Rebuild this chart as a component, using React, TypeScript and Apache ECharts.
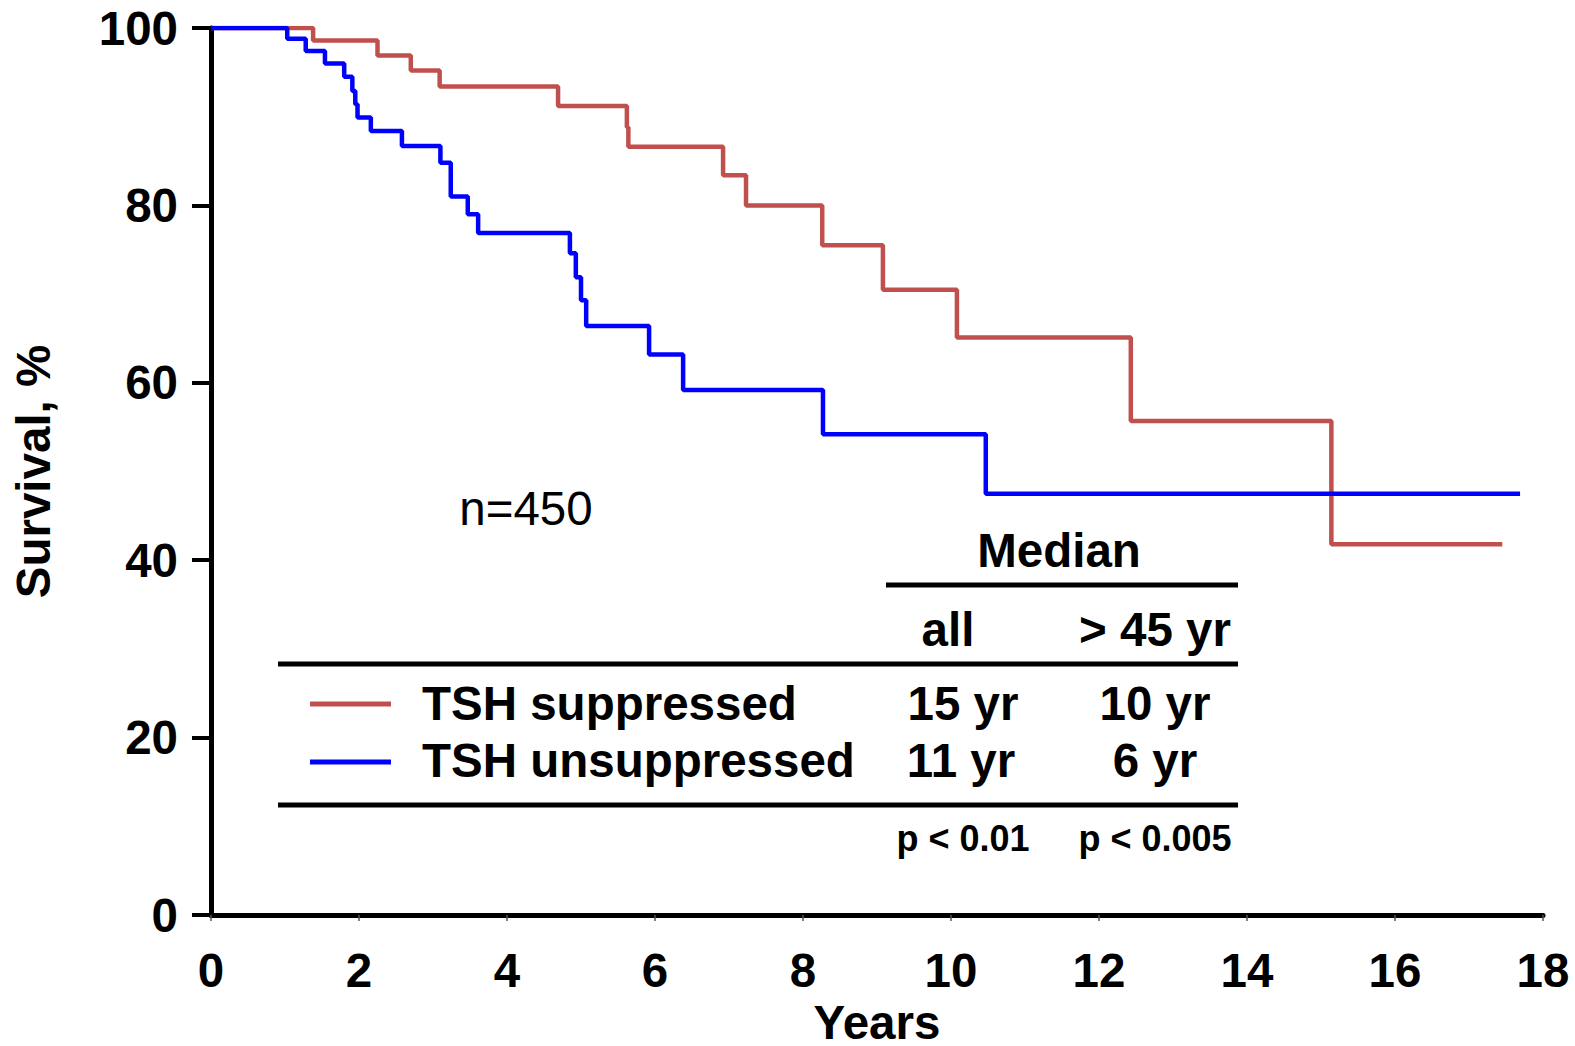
import React, { useEffect, useRef } from "react";
import * as echarts from "echarts";

const xTicks = [0, 2, 4, 6, 8, 10, 12, 14, 16, 18];
const yTicks = [0, 20, 40, 60, 80, 100];

// Kaplan-Meier steps: [years, survival %]
const suppressedTimes = [0, 1.38, 2.25, 2.7, 3.09, 4.69, 5.62, 5.64, 6.92, 7.23, 8.26, 9.08, 10.08, 12.43, 15.14, 17.45];
const suppressedSurv = [100, 98.6, 96.9, 95.2, 93.4, 91.2, 88.8, 86.6, 83.4, 80.0, 75.5, 70.5, 65.1, 55.7, 41.8, 41.8];

const unsuppressedTimes = [0, 1.03, 1.28, 1.54, 1.8, 1.91, 1.95, 1.98, 2.16, 2.58, 3.1, 3.24, 3.47, 3.61, 4.85, 4.93, 5.0, 5.07, 5.92, 6.38, 8.27, 10.47, 17.69];
const unsuppressedSurv = [100, 98.8, 97.4, 96.0, 94.5, 92.9, 91.4, 89.9, 88.4, 86.7, 84.8, 81.0, 79.0, 76.9, 74.6, 71.9, 69.3, 66.4, 63.2, 59.2, 54.2, 47.5, 47.5];

const seriesNames = ["TSH suppressed", "TSH unsuppressed"];
const medianAll = ["15 yr", "11 yr"];
const medianOver45 = ["10 yr", "6 yr"];
const pValues = ["p < 0.01", "p < 0.005"];
const columnHeads = ["all", "> 45 yr"];

const RED = "#C0504D";
const BLUE = "#0000FF";
const FONT = '"Liberation Sans", Arial, Helvetica, sans-serif';
const FS = 47.5;

export default function App() {
  const ref = useRef<HTMLDivElement>(null);

  useEffect(() => {
    if (!ref.current) return;
    const chart = echarts.init(ref.current, undefined, { renderer: "svg" });

    const toPairs = (t: number[], s: number[]) => t.map((v, i) => [v, s[i]]);

    const txt = (text: string, x: number, y: number, size = FS, weight: any = "bold", align = "center") => ({
      type: "text",
      x,
      y,
      silent: true,
      style: {
        text,
        fontSize: size,
        fontWeight: weight,
        fontFamily: FONT,
        fill: "#000",
        align,
        verticalAlign: "middle",
      },
    });
    const hline = (x1: number, x2: number, y: number, color = "#000", w = 5) => ({
      type: "line",
      silent: true,
      shape: { x1, y1: y, x2, y2: y },
      style: { stroke: color, lineWidth: w },
    });

    const colAll = 961;
    const col45 = 1155;
    const row1 = 703;
    const row2 = 760;

    chart.setOption({
      animation: false,
      backgroundColor: "#fff",
      grid: { left: 211, right: 32, top: 28, bottom: 131, containLabel: false, outerBoundsMode: "none" },
      xAxis: [
        {
          type: "value",
          min: 0,
          max: 18,
          interval: 2,
          axisLine: { show: true, onZero: false, lineStyle: { color: "#000", width: 5 } },
          axisTick: { show: false },
          axisLabel: { show: false },
          splitLine: { show: false },
          name: "Years",
          nameLocation: "middle",
          nameGap: 85,
          nameTextStyle: { fontSize: FS, fontWeight: "bold", fontFamily: FONT, color: "#000", lineHeight: 44 },
        },
        {
          type: "value",
          min: 0,
          max: 18,
          interval: 2,
          position: "bottom",
          offset: 15,
          axisLine: { show: false },
          axisTick: { show: true, length: 6, lineStyle: { color: "#555", width: 1.5 } },
          axisLabel: {
            show: true,
            margin: 16,
            fontSize: FS,
            fontWeight: "bold",
            fontFamily: FONT,
            color: "#000",
            formatter: (v: number) => (xTicks.includes(v) ? String(v) : ""),
          },
          splitLine: { show: false },
        },
      ],
      yAxis: {
        type: "value",
        min: 0,
        max: 100,
        interval: 20,
        axisLine: { show: true, lineStyle: { color: "#000", width: 5 } },
        axisTick: { show: true, inside: false, length: 19, lineStyle: { color: "#000", width: 4 } },
        axisLabel: {
          margin: 33,
          fontSize: FS,
          fontWeight: "bold",
          fontFamily: FONT,
          color: "#000",
          formatter: (v: number) => (yTicks.includes(v) ? String(v) : ""),
        },
        splitLine: { show: false },
        name: "Survival, %",
        nameLocation: "middle",
        nameGap: 154,
        nameTextStyle: { fontSize: FS, fontWeight: "bold", fontFamily: FONT, color: "#000" },
      },
      series: [
        {
          name: seriesNames[0],
          type: "line",
          step: "end",
          xAxisIndex: 0,
          symbol: "none",
          showSymbol: false,
          data: toPairs(suppressedTimes, suppressedSurv),
          lineStyle: { color: RED, width: 4.5 },
          itemStyle: { color: RED },
        },
        {
          name: seriesNames[1],
          type: "line",
          step: "end",
          xAxisIndex: 0,
          symbol: "none",
          showSymbol: false,
          data: toPairs(unsuppressedTimes, unsuppressedSurv),
          lineStyle: { color: BLUE, width: 4.5 },
          itemStyle: { color: BLUE },
        },
      ],
      graphic: [
        txt("n=450", 526, 508, FS, "normal"),
        txt("Median", 1059, 550),
        hline(886, 1238, 585),
        txt(columnHeads[0], 948, 629),
        txt(columnHeads[1], 1155, 629),
        hline(278, 1238, 664),
        hline(310, 391, row1 + 1, RED, 5),
        hline(310, 391, row2 + 2, BLUE, 5),
        txt(seriesNames[0], 422, row1, FS, "bold", "left"),
        txt(seriesNames[1], 422, row2, FS, "bold", "left"),
        txt(medianAll[0], colAll + 2, row1),
        txt(medianAll[1], colAll, row2),
        txt(medianOver45[0], col45, row1),
        txt(medianOver45[1], col45, row2),
        hline(278, 1238, 805),
        txt(pValues[0], 963, 838, 36),
        txt(pValues[1], 1155, 838, 36),
      ],
    });

    return () => chart.dispose();
  }, []);

  return (
    <div
      ref={ref}
      style={{ position: "fixed", left: 0, top: 0, width: 1575, height: 1046, background: "#fff" }}
    />
  );
}
